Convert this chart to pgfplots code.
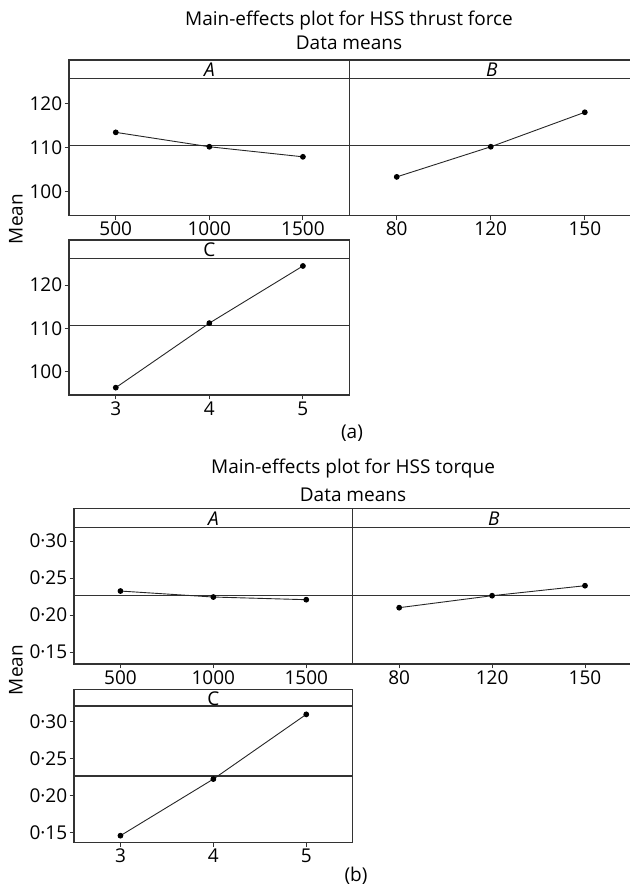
\documentclass[border=0pt]{standalone}
\usepackage{fontspec}
\setmainfont{Open Sans}
\usepackage{pgfplots}
\pgfplotsset{compat=1.18}

\pgfplotsset{
  panel/.style={
    scale only axis,
    xmin=0.5, xmax=3.5, xtick={1,2,3},
    axis line style={draw=black!80, line width=0.7pt},
    tick style={draw=black!80, line width=0.5pt},
    major tick length=2.2pt,
    tick align=outside,
    xtick pos=bottom, ytick pos=left,
    tick label style={font=\fontsize{9.5}{10}\selectfont},
    xticklabel style={inner sep=0.5pt, yshift=-0.5pt},
    yticklabel style={inner sep=1pt},
  },
  eff/.style={black!85, line width=0.45pt, mark=*, mark size=1.2pt,
    mark options={fill=black, draw=black}},
  ref/.style={black!80, line width=0.6pt, no marks},
}
\newcommand\strip[3]{%
  \draw[black!80, line width=0.7pt] (rel axis cs:0,#1) -- (rel axis cs:1,#1);
  \node[font=\fontsize{9.5}{10}\selectfont, inner sep=0pt] at (rel axis cs:0.5,#2) {#3};}

\begin{document}
\begin{tikzpicture}
\useasboundingbox (0,0) rectangle (314.5pt,-443pt);
\fontsize{9.5}{11}\selectfont

% (a) thrust force
\node at (174.5pt,-10.35pt) {Main-effects plot for HSS thrust force};
\node at (174.5pt,-21.35pt) {Data means};
\node[rotate=90] at (8pt,-109.5pt) {Mean};
\node at (176pt,-216.5pt) {(a)};

\begin{axis}[panel, anchor=south west, at={(34.5pt,-107.65pt)},
  width=140.35pt, height=77.65pt, ymin=94.5, ymax=130.08,
  ytick={100,110,120}, yticklabels={100,110,120},
  xticklabels={500,1000,1500}]
\addplot[ref] coordinates {(0.5,110.5) (3.5,110.5)};
\addplot[eff] coordinates {(1,113.5) (2,110.2) (3,107.9)};
\strip{0.8796}{0.935}{\textit{A}}
\end{axis}

\begin{axis}[panel, anchor=south west, at={(174.85pt,-107.65pt)},
  width=142pt, height=77.65pt, ymin=94.5, ymax=130.08,
  xmax=3.52, ytick=\empty, xticklabels={80,120,150}]
\addplot[ref] coordinates {(0.5,110.5) (3.52,110.5)};
\addplot[eff] coordinates {(1,103.3) (2,110.2) (3,118.1)};
\strip{0.8796}{0.935}{\textit{B}}
\end{axis}

\begin{axis}[panel, anchor=south west, at={(34.5pt,-197.5pt)},
  width=140.35pt, height=77.5pt, ymin=94.6, ymax=130.4,
  ytick={100,110,120}, yticklabels={100,110,120},
  xticklabels={3,4,5}]
\addplot[ref] coordinates {(0.5,110.6) (3.5,110.6)};
\addplot[eff] coordinates {(1,96.3) (2,111.2) (3,124.4)};
\strip{0.8819}{0.935}{C}
\end{axis}

% (b) torque
\node at (176.5pt,-234.15pt) {Main-effects plot for HSS torque};
\node at (176.5pt,-247.5pt) {Data means};
\node[rotate=90] at (8pt,-335pt) {Mean};
\node at (178pt,-438pt) {(b)};

\begin{axis}[panel, anchor=south west, at={(37pt,-332pt)},
  width=139.35pt, height=77.85pt, ymin=0.1338, ymax=0.3442,
  ytick={0.15,0.20,0.25,0.30}, yticklabels={0·15,0·20,0·25,0·30},
  xticklabels={500,1000,1500}]
\addplot[ref] coordinates {(0.5,0.226) (3.5,0.226)};
\addplot[eff] coordinates {(1,0.2324) (2,0.2243) (3,0.2207)};
\strip{0.878}{0.935}{\textit{A}}
\end{axis}

\begin{axis}[panel, anchor=south west, at={(176.35pt,-332pt)},
  width=141pt, height=77.85pt, ymin=0.1338, ymax=0.3442,
  xmax=3.535, ytick=\empty, xticklabels={80,120,150}]
\addplot[ref] coordinates {(0.5,0.226) (3.535,0.226)};
\addplot[eff] coordinates {(1,0.2099) (2,0.2261) (3,0.2396)};
\strip{0.878}{0.935}{\textit{B}}
\end{axis}

\begin{axis}[panel, anchor=south west, at={(37pt,-421.15pt)},
  width=139.35pt, height=76.5pt, ymin=0.1364, ymax=0.344,
  ytick={0.15,0.20,0.25,0.30}, yticklabels={0·15,0·20,0·25,0·30},
  xticklabels={3,4,5}]
\addplot[ref] coordinates {(0.5,0.2265) (3.5,0.2265)};
\addplot[eff] coordinates {(1,0.1454) (2,0.2222) (3,0.3100)};
\strip{0.8908}{0.94}{C}
\end{axis}
\end{tikzpicture}
\end{document}
